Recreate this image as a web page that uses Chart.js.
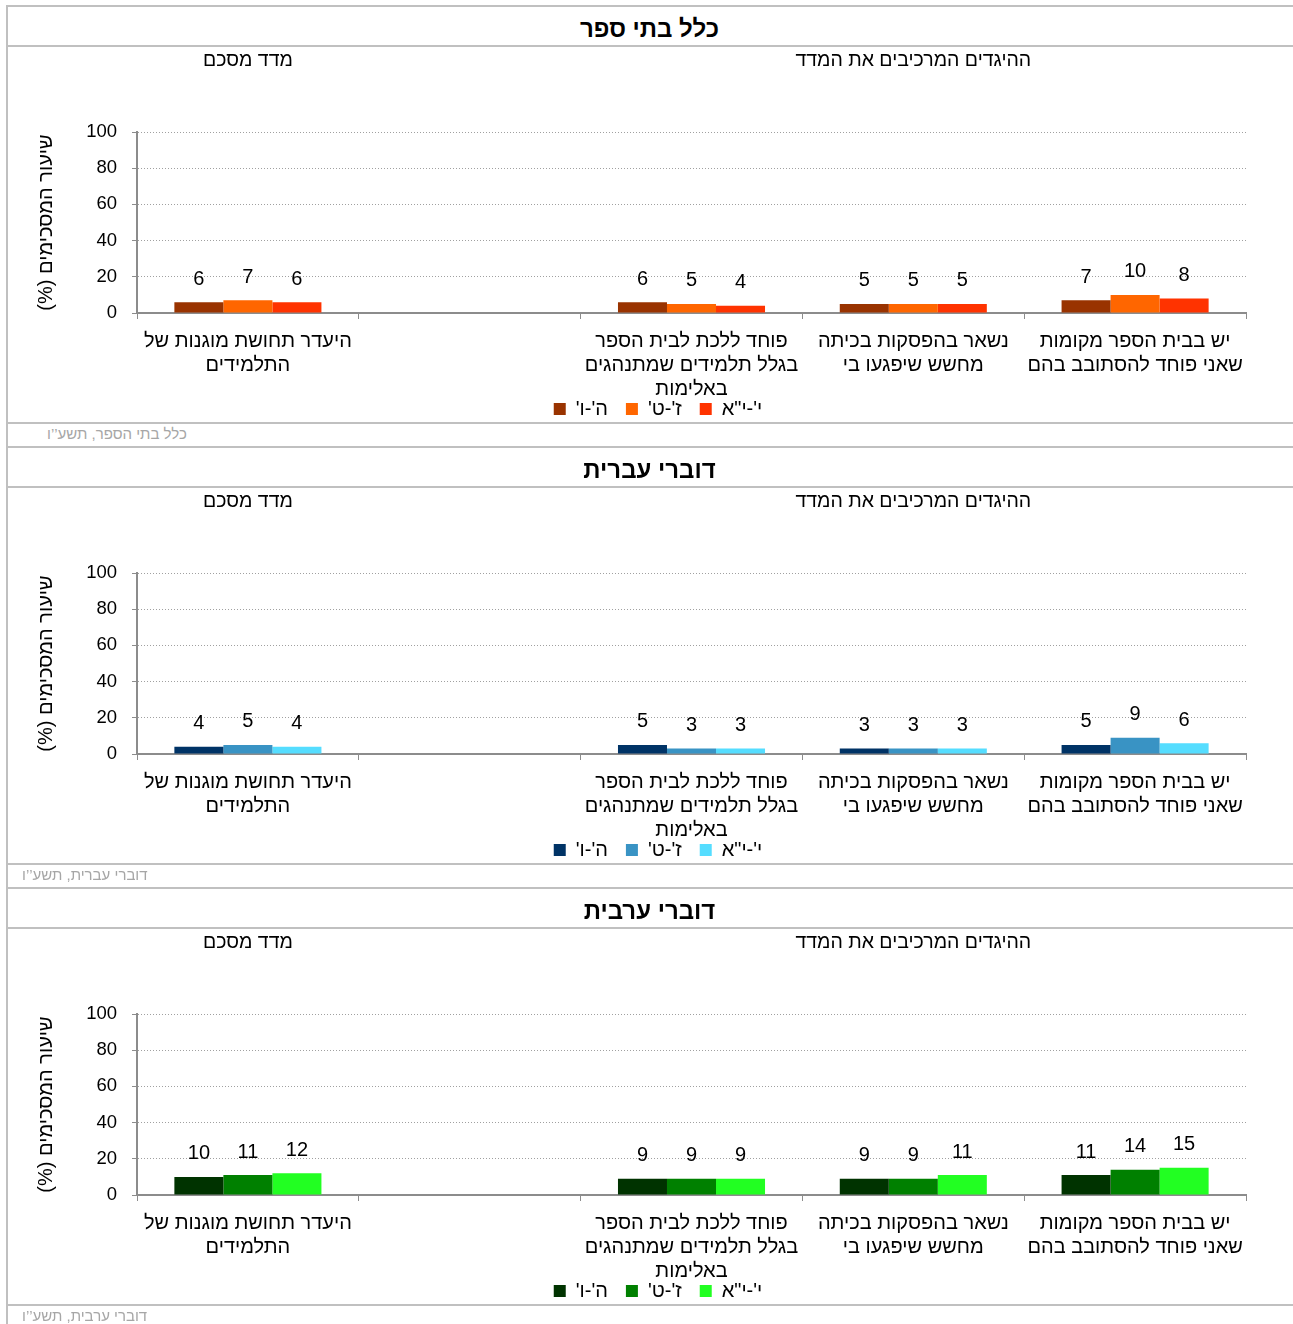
<!DOCTYPE html>
<html lang="he">
<head>
<meta charset="utf-8">
<script src="https://cdn.jsdelivr.net/npm/chart.js@4.4.1/dist/chart.umd.min.js"></script>
<style>
  html,body{margin:0;padding:0;background:#fff;}
  body{width:1293px;height:1324px;position:relative;overflow:hidden;font-family:"Liberation Sans","DejaVu Sans",sans-serif;}
  .vline{position:absolute;left:6px;top:5px;width:2px;height:1330px;background:#c0c0c0;}
  .panel{position:absolute;left:6px;width:1287px;height:441px;}
  .hl{position:absolute;left:0;width:1287px;height:2px;background:#c0c0c0;}
  .title{position:absolute;left:0;width:1287px;top:10px;text-align:center;font-weight:bold;font-size:24px;line-height:28px;color:#000;direction:rtl;}
  .src{position:absolute;top:420px;font-size:15px;line-height:18px;color:#a6a6a6;direction:rtl;white-space:nowrap;}
  canvas{position:absolute;left:1px;top:42px;}
</style>
</head>
<body>
<div class="vline"></div>

<div class="panel" style="top:5px;">
  <div class="hl" style="top:0"></div>
  <div class="title">כלל בתי ספר</div>
  <div class="hl" style="top:40px"></div>
  <div class="hl" style="top:417px"></div>
  <div class="src" style="left:41px;">כלל בתי הספר, תשע’’ו</div>
  <canvas id="c1" width="1286" height="409" dir="rtl"></canvas>
</div>

<div class="panel" style="top:446px;">
  <div class="hl" style="top:0"></div>
  <div class="title">דוברי עברית</div>
  <div class="hl" style="top:40px"></div>
  <div class="hl" style="top:417px"></div>
  <div class="src" style="left:16px;">דוברי עברית, תשע’’ו</div>
  <canvas id="c2" width="1286" height="409" dir="rtl"></canvas>
</div>

<div class="panel" style="top:887px;">
  <div class="hl" style="top:0"></div>
  <div class="title">דוברי ערבית</div>
  <div class="hl" style="top:40px"></div>
  <div class="hl" style="top:417px"></div>
  <div class="src" style="left:16px;">דוברי ערבית, תשע’’ו</div>
  <canvas id="c3" width="1286" height="409" dir="rtl"></canvas>
</div>

<script>
// ---- data ----
const categories = [
  ["היעדר תחושת מוגנות של", "התלמידים"],
  "",
  ["פוחד ללכת לבית הספר", "בגלל תלמידים שמתנהגים", "באלימות"],
  ["נשאר בהפסקות בכיתה", "מחשש שיפגעו בי"],
  ["יש בבית הספר מקומות", "שאני פוחד להסתובב בהם"]
];
const seriesNames = ["ה'-ו'", "ז'-ט'", "י'-י\"א"];
const yTicks = [0, 20, 40, 60, 80, 100];
const yTitle = "שיעור המסכימים (%)";
const subtitleIndex = "מדד מסכם";
const subtitleItems = "ההיגדים המרכיבים את המדד";

const allGrades56   = [6, null, 6, 5, 7];
const allGrades79   = [7, null, 5, 5, 10];
const allGrades1011 = [6, null, 4, 5, 8];

const hebGrades56   = [4, null, 5, 3, 5];
const hebGrades79   = [5, null, 3, 3, 9];
const hebGrades1011 = [4, null, 3, 3, 6];

const arbGrades56   = [10, null, 9, 9, 11];
const arbGrades79   = [11, null, 9, 9, 14];
const arbGrades1011 = [12, null, 9, 11, 15];

const coloursAll = ['#993300', '#FF6600', '#FF3300'];
const coloursHeb = ['#003366', '#3993C4', '#55DDFF'];
const coloursArb = ['#003300', '#008000', '#22FF22'];

const FONT = '"Liberation Sans","DejaVu Sans",sans-serif';

const valueLabels = {
  id: 'valueLabels',
  afterDatasetsDraw(chart) {
    const ctx = chart.ctx;
    ctx.save();
    ctx.font = '20px ' + FONT;
    ctx.fillStyle = '#000';
    ctx.textAlign = 'center';
    ctx.textBaseline = 'middle';
    chart.data.datasets.forEach((ds, i) => {
      chart.getDatasetMeta(i).data.forEach((bar, j) => {
        const v = ds.data[j];
        if (v === null || v === undefined) return;
        ctx.fillText(String(v), bar.x, bar.y - 23);
      });
    });
    ctx.restore();
  }
};

const subtitles = {
  id: 'subtitles',
  afterDraw(chart) {
    const ctx = chart.ctx;
    const x = chart.scales.x;
    ctx.save();
    ctx.font = '19.5px ' + FONT;
    ctx.fillStyle = '#000';
    ctx.textAlign = 'center';
    ctx.textBaseline = 'middle';
    ctx.fillText(subtitleIndex, x.getPixelForValue(0), 14);
    ctx.fillText(subtitleItems, (x.getPixelForValue(2) + x.getPixelForValue(4)) / 2, 14);
    ctx.restore();
  }
};

// place the legend just under the category labels (it overlaps the x-axis label band)
const legendPlace = {
  id: 'legendPlace',
  afterLayout(chart) {
    const lg = chart.legend;
    if (!lg) return;
    const h = lg.bottom - lg.top;
    lg.top = chart.chartArea.bottom + 68;
    lg.bottom = lg.top + h;
    lg.left += 18;
    lg.right += 18;
  }
};

function build(id, a, b, c, colours) {
  const series = [a, b, c];
  new Chart(document.getElementById(id), {
    type: 'bar',
    data: {
      labels: categories,
      datasets: series.map((d, i) => ({
        label: seriesNames[i],
        data: d,
        backgroundColor: colours[i],
        borderWidth: 0,
        categoryPercentage: 0.663,
        barPercentage: 1.0
      }))
    },
    options: {
      responsive: false,
      animation: false,
      events: [],
      layout: { padding: { left: 27, right: 47, top: 85, bottom: 0 } },
      plugins: {
        tooltip: { enabled: false },
        legend: {
          position: 'bottom',
          labels: {
            boxWidth: 12, boxHeight: 12, padding: 18,
            color: '#000',
            font: { size: 20, family: FONT }
          }
        }
      },
      scales: {
        x: {
          grid: {
            display: true, drawOnChartArea: false, drawTicks: true,
            tickLength: 6, tickColor: '#8c8c8c', tickWidth: 1, offset: true
          },
          border: { display: true, color: '#8c8c8c', width: 2 },
          ticks: {
            color: '#000', padding: 10, autoSkip: false, maxRotation: 0,
            font: { size: 20, family: FONT, lineHeight: 1.2 }
          },
          afterFit(s) { s.height = 95; }
        },
        y: {
          min: 0, max: 100,
          afterBuildTicks(s) { s.ticks = yTicks.map(v => ({ value: v })); },
          grid: {
            color: '#a0a0a0', lineWidth: 1, drawTicks: true,
            tickLength: 5, tickColor: '#8c8c8c', tickWidth: 1, tickBorderDash: []
          },
          border: { display: true, color: '#8c8c8c', width: 2, dash: [1, 2] },
          ticks: { color: '#000', padding: 15, font: { size: 18.5, family: FONT } },
          title: {
            display: true, text: yTitle, color: '#000',
            padding: 0, font: { size: 20, family: FONT }
          },
          afterFit(s) { s.width = 103; }
        }
      }
    },
    plugins: [valueLabels, subtitles, legendPlace]
  });
}

build('c1', allGrades56, allGrades79, allGrades1011, coloursAll);
build('c2', hebGrades56, hebGrades79, hebGrades1011, coloursHeb);
build('c3', arbGrades56, arbGrades79, arbGrades1011, coloursArb);
</script>
</body>
</html>
